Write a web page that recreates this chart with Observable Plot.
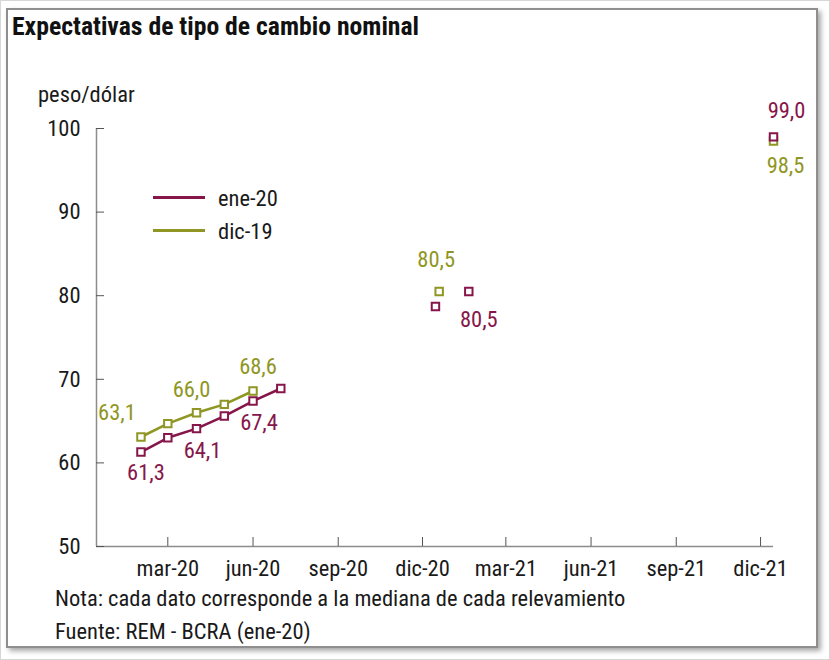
<!DOCTYPE html>
<html>
<head>
<meta charset="utf-8">
<script src="https://cdn.jsdelivr.net/npm/d3@7"></script>
<script src="https://cdn.jsdelivr.net/npm/@observablehq/plot@0.6"></script>
<style>
  html, body { margin: 0; padding: 0; background: #fff; }
  body { width: 830px; height: 660px; overflow: hidden; position: relative;
         font-family: "Roboto Condensed", Roboto, "Liberation Sans Narrow", "DejaVu Sans Condensed", sans-serif;
         font-stretch: 86%; color: #1a1a1a; }
  #outer { position: absolute; left: 0; top: 0; width: 828px; height: 658px; border: 1px solid #d6d6d6; }
  #frame { position: absolute; left: 6px; top: 8px; width: 808px; height: 636px;
           border: 2px solid #8e8e8e; box-shadow: 3px 3px 5px rgba(0,0,0,0.35); background: #fff; overflow: hidden; }
  #title { position: absolute; left: 12px; top: 11px; font-size: 25.7px; font-weight: bold; color: #111; white-space: nowrap; font-stretch: 80%; }
  #unit { position: absolute; left: 38px; top: 81px; font-size: 22.5px; white-space: nowrap; }
  #chart { position: absolute; left: 0; top: 0; }
  #legend { position: absolute; left: 153px; top: 181px; font-size: 22.5px; }
  .item { display: flex; align-items: center; height: 33px; }
  .swatch { width: 52px; height: 3px; margin-right: 13px; }
  .note { position: absolute; left: 55px; font-size: 22.5px; line-height: 24px; white-space: nowrap; }
  #fuente { top: 619px; }
</style>
</head>
<body>
<div id="outer"></div>
<div id="frame"></div>
<div id="title">Expectativas de tipo de cambio nominal</div>
<div id="unit">peso/dólar</div>
<div id="chart"></div>
<div id="legend"></div>
<div class="note" style="top:586px">Nota: cada dato corresponde a la mediana de cada relevamiento</div>
<div class="note" id="fuente">Fuente: REM - BCRA (ene-20)</div>
<script>
// ---- data ----
const seriesNames = ["ene-20", "dic-19"];
const eneDates = ["2020-02-01","2020-03-01","2020-04-01","2020-05-01","2020-06-01","2020-07-01"];
const eneValues = [61.3, 63.0, 64.1, 65.6, 67.4, 68.9];
const dicDates = ["2020-02-01","2020-03-01","2020-04-01","2020-05-01","2020-06-01"];
const dicValues = [63.1, 64.7, 66.0, 67.0, 68.6];
const eneAnnualDates = ["2020-12-15","2021-01-20","2021-12-15"];
const eneAnnualValues = [78.7, 80.5, 99.0];
const dicAnnualDates = ["2020-12-19","2021-12-15"];
const dicAnnualValues = [80.5, 98.5];
const xDomain = ["2019-12-15","2021-12-15"];
const yTicks = [50, 60, 70, 80, 90, 100];
const xTickDates = ["2020-03-01","2020-06-01","2020-09-01","2020-12-01","2021-03-01","2021-06-01","2021-09-01","2021-12-01"];
const xTickLabels = ["mar-20","jun-20","sep-20","dic-20","mar-21","jun-21","sep-21","dic-21"];

// ---- build ----
const colors = {"ene-20": "#86164a", "dic-19": "#8f9623"};
const P = s => new Date(s + "T00:00:00Z");
const mk = (dates, vals, serie) => dates.map((d, i) => ({date: P(d), value: vals[i], serie}));
const ene = mk(eneDates, eneValues, "ene-20");
const dic = mk(dicDates, dicValues, "dic-19");
const eneA = mk(eneAnnualDates, eneAnnualValues, "ene-20");
const dicA = mk(dicAnnualDates, dicAnnualValues, "dic-19");
const allPts = [...dic, ...dicA, ...ene, ...eneA];
const fmt = v => d3.format(".1f")(v).replace(".", ",");
const tickLabelMap = new Map(xTickDates.map((d, i) => [+P(d), xTickLabels[i]]));
const xTicks = xTickDates.map(P);

const W = 830, H = 600, mL = 96, mR = 57, mT = 128, mB = 54;
const plotW = W - mL - mR, plotH = H - mT - mB;
const axisColor = "#8c8c8c";
const fontSize = 22.5;

const lab = (pts, idx, dx, dy) => Plot.text(idx.map(i => pts[i]), {
  x: "date", y: "value", text: d => fmt(d.value), fill: d => colors[d.serie],
  dx, dy, fontSize, textAnchor: "middle"
});

const chart = Plot.plot({
  width: W, height: H,
  marginLeft: mL, marginRight: mR, marginTop: mT, marginBottom: mB,
  style: {background: "transparent", fontFamily: "'Roboto Condensed', Roboto, sans-serif", fontStretch: "85%", color: "#1a1a1a"},
  x: {type: "utc", domain: xDomain.map(P)},
  y: {domain: [50, 100]},
  color: {domain: seriesNames, range: seriesNames.map(s => colors[s])},
  marks: [
    Plot.ruleY([50], {stroke: axisColor, strokeWidth: 1.5}),
    Plot.ruleX([P(xDomain[0])], {stroke: axisColor, strokeWidth: 1.5}),
    Plot.tickY(yTicks, {y: d => d, stroke: "#555", strokeWidth: 1, insetRight: plotW - 8}),
    Plot.tickX(xTicks, {x: d => d, stroke: "#555", strokeWidth: 1, insetTop: plotH - 9}),
    Plot.axisY({ticks: yTicks, tickSize: 0, tickPadding: 16, fontSize, label: null, tickFormat: d => d}),
    Plot.axisX({ticks: xTicks, tickSize: 0, tickPadding: 14, fontSize, label: null, tickFormat: d => tickLabelMap.get(+d)}),
    Plot.line(dic, {x: "date", y: "value", stroke: colors["dic-19"], strokeWidth: 2.6}),
    Plot.line(ene, {x: "date", y: "value", stroke: colors["ene-20"], strokeWidth: 2.6}),
    Plot.dot(allPts, {x: "date", y: "value", symbol: "square", r: 4.2, fill: "white", stroke: d => colors[d.serie], strokeWidth: 2}),
    lab(ene, [0], 5, 21),
    lab(ene, [2, 4], 6, 22),
    lab(dic, [0], -24, -24),
    lab(dic, [2], -5, -23),
    lab(dic, [4], 5, -24),
    lab(dicA, [0], -3, -32),
    lab(eneA, [1], 10, 28),
    lab(eneA, [2], 13, -26),
    lab(dicA, [1], 12, 25)
  ]
});
document.getElementById("chart").appendChild(chart);

const legend = document.getElementById("legend");
for (const s of seriesNames) {
  const it = document.createElement("div");
  it.className = "item";
  it.innerHTML = `<span class="swatch" style="background:${colors[s]}"></span><span>${s}</span>`;
  legend.appendChild(it);
}
</script>
</body>
</html>
